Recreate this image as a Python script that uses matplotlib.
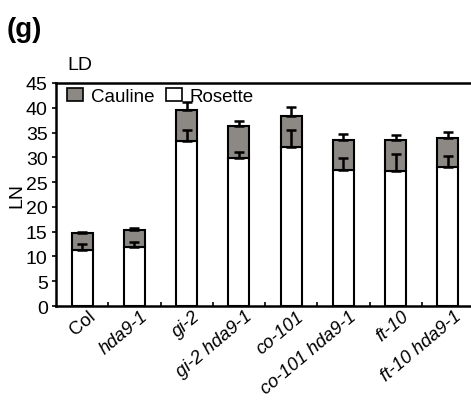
import numpy as np
import matplotlib
matplotlib.use('Agg')
import matplotlib.pyplot as plt
from matplotlib.patches import Patch
from matplotlib.transforms import ScaledTranslation

plt.rcParams['font.family'] = ['Liberation Sans', 'DejaVu Sans']

# leaf numbers under long day
genotypes = ['Col', 'hda9-1', 'gi-2', 'gi-2 hda9-1', 'co-101', 'co-101 hda9-1', 'ft-10', 'ft-10 hda9-1']
rosette = [11.4, 12.0, 33.2, 29.9, 32.0, 27.4, 27.3, 28.0]
total = [14.7, 15.3, 39.6, 36.3, 38.3, 33.5, 33.5, 34.0]
rosette_err = [1.1, 1.0, 2.4, 1.2, 3.6, 2.4, 3.4, 2.3]
total_err = [0.3, 0.5, 1.6, 1.0, 1.9, 1.3, 1.1, 1.2]

cauline = [t - r for t, r in zip(total, rosette)]
x = np.arange(len(genotypes))
gray = '#8c8883'

fig = plt.figure(figsize=(4.71, 4.02), dpi=100)
ax = fig.add_axes([56 / 471, 1 - 307 / 402, 418 / 471, 223 / 402])

ax.bar(x, rosette, width=0.4, color='white', edgecolor='black', linewidth=1.5, zorder=2)
ax.bar(x, cauline, width=0.4, bottom=rosette, color=gray, edgecolor='black', linewidth=1.5, zorder=2)

# one-sided error bars on each segment
ax.errorbar(x, rosette, yerr=[np.zeros(len(x)), rosette_err], fmt='none', ecolor='black',
            elinewidth=1.8, capsize=3.5, capthick=1.8, zorder=3)
ax.errorbar(x, total, yerr=[np.zeros(len(x)), total_err], fmt='none', ecolor='black',
            elinewidth=1.8, capsize=3.5, capthick=1.8, zorder=3)

ax.set_xlim(-0.5, 7.5)
ax.set_ylim(0, 45)
ax.set_yticks(np.arange(0, 46, 5))
ax.tick_params(axis='y', direction='out', length=3, width=1.2, labelsize=14, pad=3)
ax.set_xticks(x)
ax.set_xticks(x[:-1] + 0.5, minor=True)
ax.tick_params(axis='x', which='major', length=0, pad=1)
ax.tick_params(axis='x', which='minor', direction='in', length=3, width=1.2)

labels = ax.set_xticklabels(genotypes, rotation=40, ha='right', va='top',
                            rotation_mode='anchor', fontsize=13.3)
offset = ScaledTranslation(4 / 72, 0, fig.dpi_scale_trans)
for lab in labels:
    lab.set_transform(lab.get_transform() + offset)
    if lab.get_text() != 'Col':
        lab.set_fontstyle('italic')

for side in ['left', 'bottom', 'top']:
    ax.spines[side].set_linewidth(1.8)
ax.spines['right'].set_visible(False)

ax.set_ylabel('LN', fontsize=14, labelpad=0)

handles = [Patch(facecolor=gray, edgecolor='black', linewidth=1.2, label='Cauline'),
           Patch(facecolor='white', edgecolor='black', linewidth=1.2, label='Rosette')]
ax.legend(handles=handles, loc='upper left', ncol=2, frameon=False, fontsize=13.5,
          handlelength=0.85, handleheight=0.65, handletextpad=0.4, columnspacing=0.6,
          borderaxespad=0.1, bbox_to_anchor=(0.005, 1.02))

fig.text(67 / 471, 1 - 66 / 402, 'LD', fontsize=14, va='center', ha='left')
fig.text(7 / 471, 1 - 30 / 402, '(g)', fontsize=20, fontweight='bold', va='center', ha='left')

fig.savefig('out.png', dpi=100)
